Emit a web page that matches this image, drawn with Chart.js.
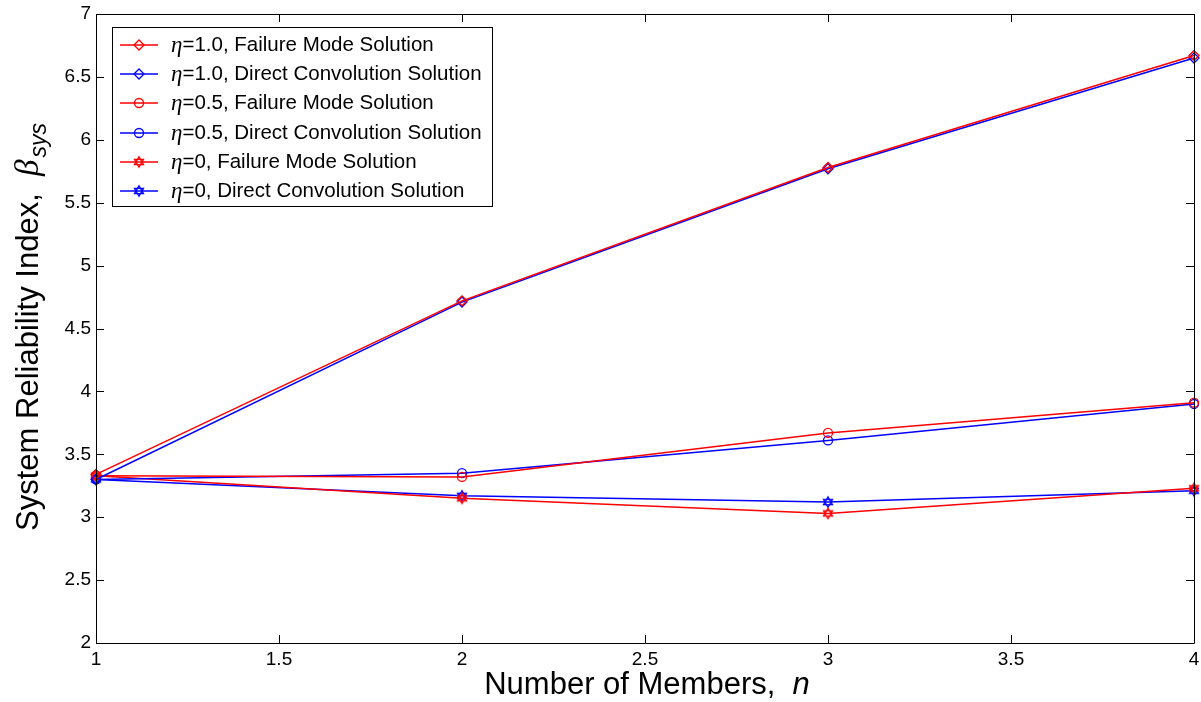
<!DOCTYPE html>
<html><head><meta charset="utf-8">
<script src="https://cdn.jsdelivr.net/npm/chart.js@4/dist/chart.umd.min.js"></script>
<style>html,body{margin:0;padding:0;background:#fff}#wrap{width:1201px;height:702px}</style>
</head><body><div id="wrap"><canvas id="c" width="1201" height="702"></canvas></div>
<script>
const members = [1, 2, 3, 4];
const eta10FM = [3.34, 4.72, 5.78, 6.67];
const eta10DC = [3.30, 4.71, 5.77, 6.65];
const eta05FM = [3.33, 3.32, 3.67, 3.91];
const eta05DC = [3.30, 3.35, 3.61, 3.90];
const eta0FM  = [3.33, 3.15, 3.03, 3.23];
const eta0DC  = [3.30, 3.17, 3.12, 3.21];
const legendEta = ['1.0', '1.0', '0.5', '0.5', '0', '0'];
const legendText = ['Failure Mode Solution', 'Direct Convolution Solution', 'Failure Mode Solution', 'Direct Convolution Solution', 'Failure Mode Solution', 'Direct Convolution Solution'];
const xTitle = 'Number of Members,  ';
const xTitleVar = 'n';
const yTitle = 'System Reliability Index,  ';
const yTitleVar = 'β';
const yTitleSub = 'sys';

const RED = '#ff0000', BLUE = '#0000ff';
function hexagram(color) {
  const cv = document.createElement('canvas');
  cv.width = 14; cv.height = 14;
  const g = cv.getContext('2d');
  g.strokeStyle = color; g.lineWidth = 1.3;
  const cx = 7, cy = 7, r = 5.2;
  for (let t = 0; t < 2; t++) {
    g.beginPath();
    for (let i = 0; i < 3; i++) {
      const a = -Math.PI / 2 + t * Math.PI + i * 2 * Math.PI / 3;
      const px = cx + r * Math.cos(a), py = cy + r * Math.sin(a);
      if (i === 0) g.moveTo(px, py); else g.lineTo(px, py);
    }
    g.closePath(); g.stroke();
  }
  return cv;
}
const hexR = hexagram(RED), hexB = hexagram(BLUE);

function ds(vals, color, style, radius) {
  return {
    data: members.map((m, i) => ({x: m, y: vals[i]})),
    borderColor: color, backgroundColor: 'rgba(0,0,0,0)',
    pointBorderColor: color, pointBackgroundColor: 'rgba(0,0,0,0)',
    borderWidth: 1.5, pointBorderWidth: 1.3, pointStyle: style, pointRadius: radius,
    pointHoverRadius: radius, tension: 0, clip: false
  };
}
const datasets = [
  ds(eta10FM, RED, 'rectRot', 5),
  ds(eta10DC, BLUE, 'rectRot', 5),
  ds(eta05FM, RED, 'circle', 4.5),
  ds(eta05DC, BLUE, 'circle', 4.5),
  ds(eta0FM, RED, hexR, 5),
  ds(eta0DC, BLUE, hexB, 5)
];

const FONT = '"Liberation Sans", Arial, sans-serif';
const decor = {
  id: 'decor',
  afterDraw(chart) {
    const ctx = chart.ctx, a = chart.chartArea;
    const xs = chart.scales.x, ys = chart.scales.y;
    ctx.save();
    ctx.strokeStyle = '#000'; ctx.lineWidth = 1;
    ctx.beginPath();
    ctx.rect(Math.round(a.left) + 0.5, Math.round(a.top) + 0.5, Math.round(a.right - a.left), Math.round(a.bottom - a.top));
    ctx.stroke();
    const L = 8;
    ctx.beginPath();
    xs.ticks.forEach(t => {
      const p = Math.round(xs.getPixelForValue(t.value)) + 0.5;
      ctx.moveTo(p, a.bottom); ctx.lineTo(p, a.bottom - L);
      ctx.moveTo(p, a.top); ctx.lineTo(p, a.top + L);
    });
    ys.ticks.forEach(t => {
      const p = Math.round(ys.getPixelForValue(t.value)) + 0.5;
      ctx.moveTo(a.left, p); ctx.lineTo(a.left + L, p);
      ctx.moveTo(a.right, p); ctx.lineTo(a.right - L, p);
    });
    ctx.stroke();

    // legend
    const bx = 112.5, by = 27.5, bw = 380, bh = 179;
    ctx.fillStyle = '#fff'; ctx.fillRect(bx, by, bw, bh);
    ctx.strokeStyle = '#000'; ctx.lineWidth = 1; ctx.strokeRect(bx, by, bw, bh);
    const rows = [45, 74, 103, 133, 162, 191];
    datasets.forEach((d, i) => {
      const y = rows[i];
      ctx.strokeStyle = d.borderColor; ctx.lineWidth = 1.5;
      ctx.beginPath(); ctx.moveTo(120, y); ctx.lineTo(158, y); ctx.stroke();
      ctx.fillStyle = 'rgba(0,0,0,0)'; ctx.lineWidth = 1.3; ctx.strokeStyle = d.borderColor;
      Chart.helpers.drawPoint(ctx, {pointStyle: d.pointStyle, radius: d.pointRadius, borderWidth: 1.3, rotation: 0}, 139, y);
      ctx.fillStyle = '#000'; ctx.textBaseline = 'middle'; ctx.textAlign = 'left';
      ctx.font = 'italic 23px "Liberation Serif", serif';
      ctx.fillText('η', 171, y + 1);
      let x = 171 + ctx.measureText('η').width;
      ctx.font = '20.5px ' + FONT;
      ctx.fillText('=' + legendEta[i] + ', ' + legendText[i], x, y);
    });
    ctx.restore();

    // x title
    ctx.save();
    ctx.fillStyle = '#000'; ctx.textBaseline = 'alphabetic';
    ctx.font = '31px ' + FONT;
    const w1 = ctx.measureText(xTitle).width;
    ctx.font = 'italic 31px ' + FONT;
    const w2 = ctx.measureText(xTitleVar).width;
    let sx = 647 - (w1 + w2) / 2;
    ctx.font = '31px ' + FONT; ctx.textAlign = 'left';
    ctx.fillText(xTitle, sx, 694);
    ctx.font = 'italic 31px ' + FONT;
    ctx.fillText(xTitleVar, sx + w1, 694);
    ctx.restore();

    // y title
    ctx.save();
    ctx.translate(38, 327); ctx.rotate(-Math.PI / 2);
    ctx.fillStyle = '#000'; ctx.textBaseline = 'alphabetic'; ctx.textAlign = 'left';
    ctx.font = '31px ' + FONT;
    const u1 = ctx.measureText(yTitle).width;
    ctx.font = 'italic 33px "Liberation Serif", serif';
    const u2 = ctx.measureText(yTitleVar).width;
    ctx.font = 'italic 23px ' + FONT;
    const u3 = ctx.measureText(yTitleSub).width;
    let s = -(u1 + u2 + u3 + 2) / 2;
    ctx.font = '31px ' + FONT; ctx.fillText(yTitle, s, 0);
    ctx.font = 'italic 33px "Liberation Serif", serif'; ctx.fillText(yTitleVar, s + u1, 0);
    ctx.font = 'italic 23px ' + FONT; ctx.fillText(yTitleSub, s + u1 + u2 + 2, 8);
    ctx.restore();
  }
};

const fmt = v => String(Math.round(v * 10) / 10);
new Chart(document.getElementById('c'), {
  type: 'line',
  data: {datasets},
  plugins: [decor],
  options: {
    responsive: false, animation: false,
    layout: {padding: {top: 14, right: 7, left: 0, bottom: 0}},
    plugins: {legend: {display: false}, tooltip: {enabled: false}},
    scales: {
      x: {
        type: 'linear', min: 1, max: 4,
        ticks: {stepSize: 0.5, color: '#000', font: {family: FONT, size: 19}, padding: 5, maxRotation: 0, callback: fmt},
        grid: {display: false, drawTicks: false}, border: {display: false},
        afterFit(s) { s.height = 59; s.paddingLeft = 0; s.paddingRight = 0; }
      },
      y: {
        type: 'linear', min: 2, max: 7,
        ticks: {stepSize: 0.5, color: '#000', font: {family: FONT, size: 19}, padding: 5, callback: fmt},
        grid: {display: false, drawTicks: false}, border: {display: false},
        afterFit(s) { s.width = 96; s.paddingTop = 0; s.paddingBottom = 0; }
      }
    }
  }
});
</script></body></html>
